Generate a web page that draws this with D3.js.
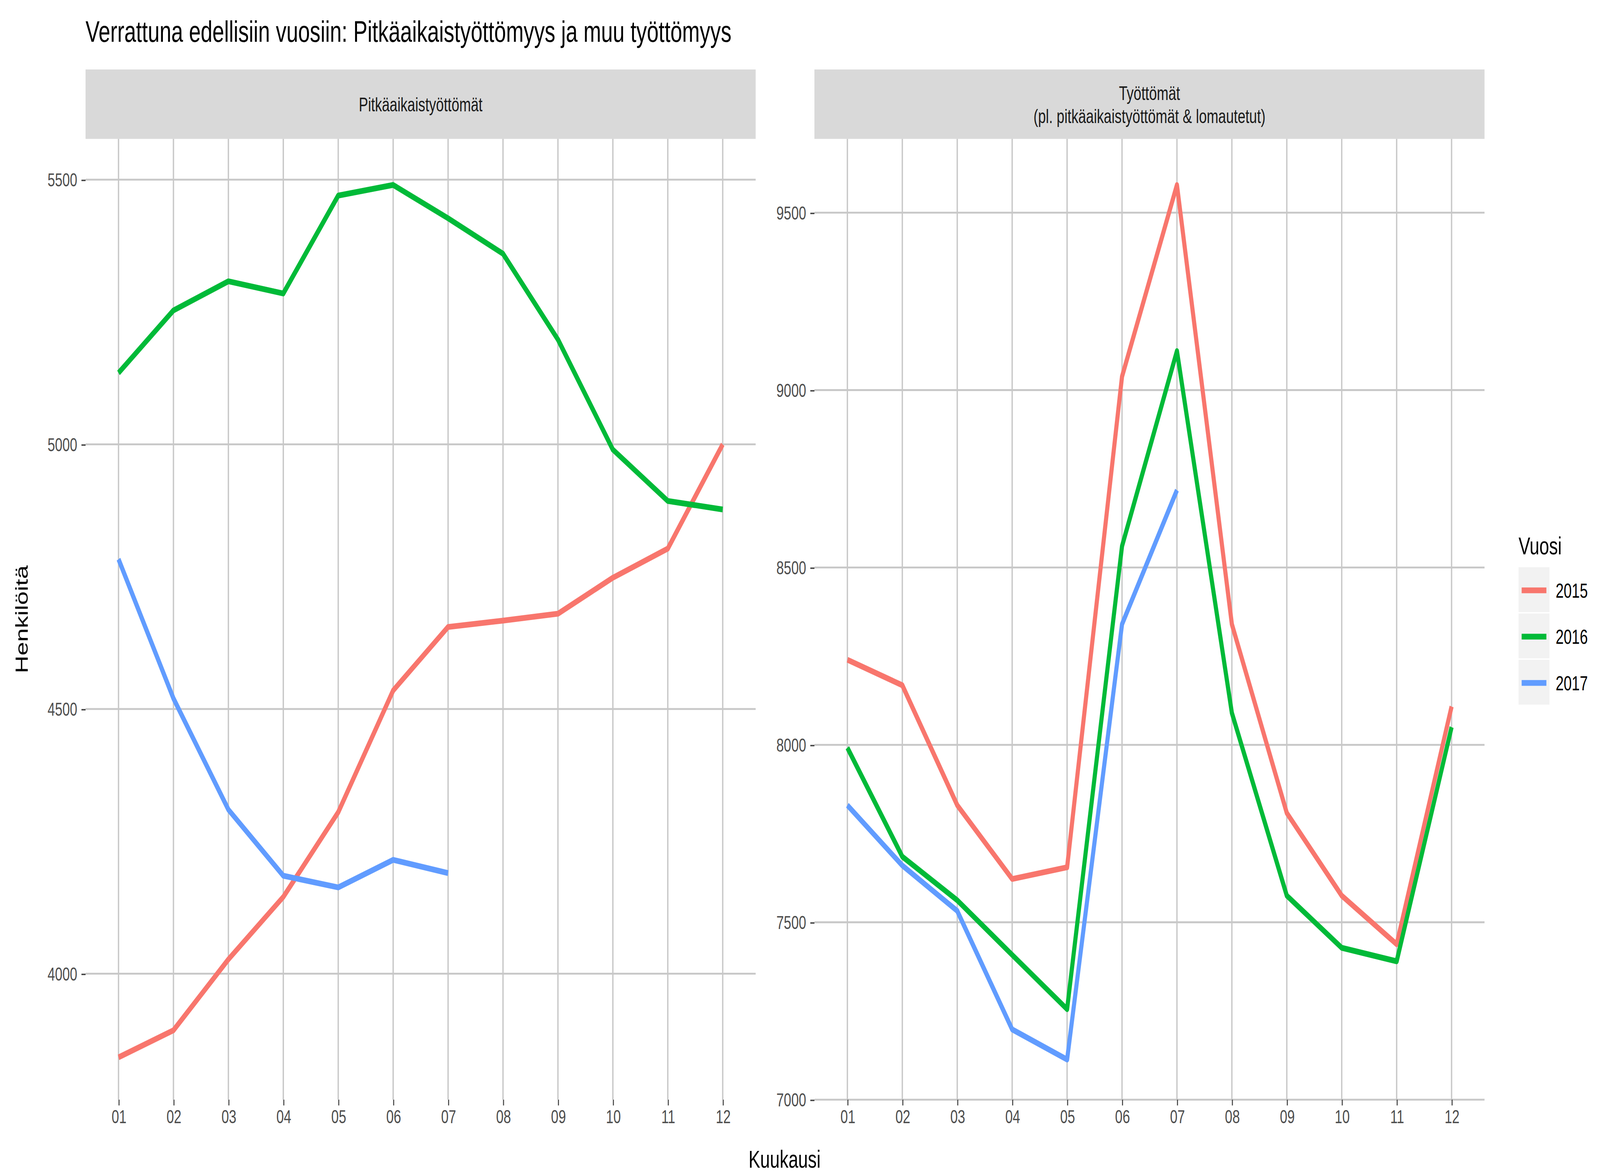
<!DOCTYPE html>
<html><head><meta charset="utf-8">
<script src="https://cdn.jsdelivr.net/npm/d3@7"></script>
<style>html,body{margin:0;padding:0;background:#fff;overflow:hidden;width:100%;height:100%}svg{display:block}</style>
</head><body>
<div id="chart"></div>
<script>
var months = ["01","02","03","04","05","06","07","08","09","10","11","12"];
var years = ["2015","2016","2017"];
var colors = ["#F8766D","#00BA38","#619CFF"];
var leftTitle = "Pitkäaikaistyöttömät";
var rightTitle = ["Työttömät","(pl. pitkäaikaistyöttömät & lomautetut)"];
var long2015 = [3842,3893,4027,4145,4305,4535,4655,4667,4680,4748,4803,5000];
var long2016 = [5135,5253,5308,5285,5470,5490,5427,5360,5198,4990,4893,4877];
var long2017 = [4783,4520,4310,4185,4163,4215,4190];
var other2015 = [8240,8168,7830,7622,7655,9038,9578,8340,7808,7575,7438,8108];
var other2016 = [7992,7685,7562,7408,7255,8560,9110,8090,7575,7428,7390,8050];
var other2017 = [7830,7660,7532,7198,7113,8340,8718];
var leftTicks = [4000,4500,5000,5500];
var rightTicks = [7000,7500,8000,8500,9000,9500];

var W = 1552, H = 810;
var svg = d3.select("#chart").append("svg")
  .attr("width", "100vw").attr("height", "100vh")
  .attr("viewBox", "0 0 " + W + " " + H)
  .attr("preserveAspectRatio", "none")
  .style("font-family", "Arial, 'Liberation Sans', sans-serif");

svg.append("text").attr("x", 83).attr("y", 29).attr("font-size", 20.5)
  .text("Verrattuna edellisiin vuosiin: Pitkäaikaistyöttömyys ja muu työttömyys");

function panel(x0, x1, domain, ticks, series, title) {
  var top = 96, bottom = 760;
  var x = d3.scalePoint().domain(months).range([x0, x1]).padding(0.6);
  var y = d3.scaleLinear().domain(domain).range([bottom, top]);
  var g = svg.append("g");
  // strip
  g.append("rect").attr("x", x0).attr("y", 48).attr("width", x1 - x0).attr("height", 48).attr("fill", "#d9d9d9");
  var lines = [].concat(title);
  lines.forEach(function(t, i) {
    g.append("text").attr("x", (x0 + x1) / 2)
      .attr("y", 72 + (i - (lines.length - 1) / 2) * 16 + 5)
      .attr("text-anchor", "middle").attr("font-size", 13.5).attr("fill", "#1a1a1a").text(t);
  });
  // grid
  g.selectAll(".hg").data(ticks).enter().append("line")
    .attr("x1", x0).attr("x2", x1).attr("y1", y).attr("y2", y)
    .attr("stroke", "#c8c8c8").attr("stroke-width", 1.3);
  g.selectAll(".vg").data(months).enter().append("line")
    .attr("x1", x).attr("x2", x).attr("y1", top).attr("y2", bottom)
    .attr("stroke", "#c8c8c8").attr("stroke-width", 1.3);
  // axes
  var ya = g.append("g").attr("transform", "translate(" + x0 + ",0)")
    .call(d3.axisLeft(y).tickValues(ticks).tickFormat(d3.format("d")).tickSize(4).tickPadding(4));
  var xa = g.append("g").attr("transform", "translate(0," + bottom + ")")
    .call(d3.axisBottom(x).tickSize(4).tickPadding(3));
  [ya, xa].forEach(function(a) {
    a.select(".domain").remove();
    a.selectAll("line").attr("stroke", "#444");
    a.selectAll("text").attr("font-size", 13).attr("fill", "#4d4d4d").style("font-family", "Arial, 'Liberation Sans', sans-serif");
  });
  var line = d3.line().x(function(d, i) { return x(months[i]); }).y(function(d) { return y(d); });
  series.forEach(function(s, i) {
    g.append("path").attr("d", line(s)).attr("fill", "none")
      .attr("stroke", colors[i]).attr("stroke-width", 4).attr("stroke-linejoin", "round");
  });
}

panel(83, 733, [3762, 5577], leftTicks, [long2015, long2016, long2017], leftTitle);
panel(790, 1440, [7000, 9708], rightTicks, [other2015, other2016, other2017], rightTitle);

svg.append("text").attr("transform", "translate(27,428) rotate(-90)")
  .attr("text-anchor", "middle").attr("font-size", 17).text("Henkilöitä");
svg.append("text").attr("x", 761).attr("y", 807)
  .attr("text-anchor", "middle").attr("font-size", 17).text("Kuukausi");

// legend
var lg = svg.append("g");
lg.append("text").attr("x", 1473).attr("y", 383).attr("font-size", 17).text("Vuosi");
years.forEach(function(yv, i) {
  var cy = 408 + i * 32;
  lg.append("rect").attr("x", 1473).attr("y", cy - 16).attr("width", 30).attr("height", 31).attr("fill", "#f2f2f2");
  lg.append("line").attr("x1", 1476).attr("x2", 1500).attr("y1", cy).attr("y2", cy)
    .attr("stroke", colors[i]).attr("stroke-width", 4);
  lg.append("text").attr("x", 1509).attr("y", cy + 5).attr("font-size", 14).text(yv);
});
</script>
</body></html>
